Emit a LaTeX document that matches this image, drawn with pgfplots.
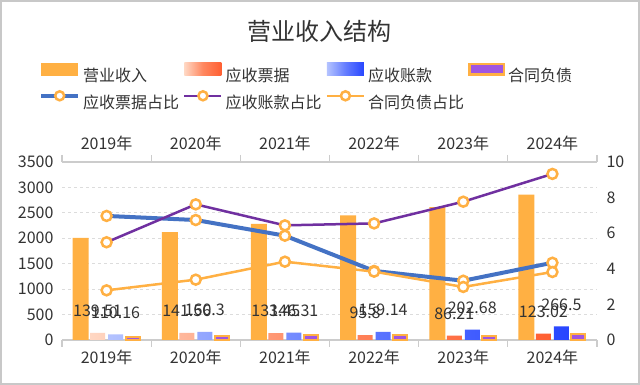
\documentclass[border=0pt]{standalone}
\usepackage{pgfplots}
\pgfplotsset{compat=1.18}
\usepackage{fontspec}
\setmainfont{Noto Sans CJK SC}
\definecolor{orangeC}{RGB}{255,176,67}
\definecolor{redL}{RGB}{255,215,195}
\definecolor{redM}{RGB}{255,135,95}
\definecolor{redR}{RGB}{255,95,50}
\definecolor{blueLt}{RGB}{180,195,255}
\definecolor{blueM}{RGB}{100,125,255}
\definecolor{blueR}{RGB}{40,70,255}
\definecolor{purpleBar}{RGB}{160,85,225}
\definecolor{blueLine}{RGB}{68,114,196}
\definecolor{purpleLine}{RGB}{112,48,160}
\definecolor{textC}{RGB}{51,51,51}
\definecolor{axisgray}{RGB}{204,204,204}
\definecolor{gridgray}{RGB}{220,220,220}
\definecolor{bordergray}{RGB}{200,200,200}
\begin{document}
\begin{tikzpicture}[x=1pt,y=1pt]
\useasboundingbox (0,0) rectangle (640,385);
\fill[white] (0,0) rectangle (640,385);
\draw[bordergray, line width=2pt] (1,1) rectangle (639,384);

\begin{axis}[
  at={(62pt,45pt)}, anchor=south west, scale only axis,
  width=535pt, height=178pt,
  xmin=-0.5, xmax=5.5, ymin=0, ymax=3500,
  ytick={0,500,...,3500},
  xtick={0,...,5},
  xticklabels={2019年,2020年,2021年,2022年,2023年,2024年},
  xticklabel pos=lower,
  minor xtick={-0.5,0.5,...,5.5},
  xtick align=outside, minor tick length=7pt, major tick length=0pt,
  separate axis lines,
  x axis line style={draw=axisgray, line width=1.2pt},
  y axis line style={draw=none},
  minor x tick style={draw=axisgray, line width=1.2pt},
  major tick style={draw=none},
  ymajorgrids, grid style={dashed, draw=gridgray, line width=1pt},
  tick label style={font=\fontsize{16}{19}\selectfont, text=textC},
  xticklabel style={yshift=-6pt},
  yticklabel style={xshift=-5pt},
  /pgf/number format/assume math mode=true,
  /pgf/number format/1000 sep={},
  clip=false,
]
\addplot[ybar, bar width=16pt, bar shift=-26pt, fill=orangeC, draw=none]
  coordinates {(0,2010) (1,2120) (2,2285) (3,2450) (4,2615) (5,2860)};
\addplot[ybar, bar width=15pt, bar shift=-9pt, left color=redL, right color=redR, middle color=redM, draw=none]
  coordinates {(0,139.51) (1,141.56) (2,133.45) (3,95.8) (4,86.21) (5,123.02)};
\addplot[ybar, bar width=15pt, bar shift=9pt, left color=blueLt, right color=blueR, middle color=blueM, draw=none]
  coordinates {(0,110.16) (1,160.3) (2,146.31) (3,159.14) (4,202.68) (5,266.5)};
\addplot[ybar, bar width=14pt, bar shift=26pt, fill=purpleBar, draw=orangeC, line width=2pt]
  coordinates {(0,56) (1,72) (2,100) (3,94) (4,78) (5,109)};
% data labels of 应收票据 and 应收账款 (placed 22px above each bar top)
\addplot[only marks, mark=none, point meta=explicit symbolic,
  nodes near coords={\pgfplotspointmeta},
  every node near coord/.style={anchor=center, text=textC, font=\fontsize{16}{19}\selectfont}]
  coordinates {(-0.101,572)[139.51] (0.899,574)[141.56] (1.899,566)[133.45] (2.899,528)[95.8] (3.899,519)[86.21] (4.899,555)[123.02]};
\addplot[only marks, mark=none, point meta=explicit symbolic,
  nodes near coords={\pgfplotspointmeta},
  every node near coord/.style={anchor=center, text=textC, font=\fontsize{16}{19}\selectfont}]
  coordinates {(0.101,543)[110.16] (1.101,593)[160.3] (2.101,579)[146.31] (3.101,592)[159.14] (4.101,635)[202.68] (5.101,699)[266.5]};
\end{axis}

\begin{axis}[
  at={(62pt,45pt)}, anchor=south west, scale only axis,
  width=535pt, height=178pt,
  xmin=-0.5, xmax=5.5, ymin=0, ymax=10,
  ytick={0,2,...,10},
  yticklabel pos=right,
  xtick={0,...,5},
  xticklabels={2019年,2020年,2021年,2022年,2023年,2024年},
  xticklabel pos=upper,
  separate axis lines,
  x axis line style={draw=none},
  y axis line style={draw=none},
  major tick style={draw=none},
  major tick length=0pt,
  tick label style={font=\fontsize{16}{19}\selectfont, text=textC},
  xticklabel style={yshift=8pt},
  yticklabel style={xshift=6pt},
  /pgf/number format/assume math mode=true,
  clip=false,
  title={营业收入结构},
  title style={at={(0.482,1.70)}, anchor=center, font=\fontsize{24}{28}\selectfont, text=textC},
  legend columns=4,
  legend cell align=left,
  legend style={at={(-0.043,1.560)}, anchor=north west, draw=none, fill=none,
    inner sep=0pt, font=\fontsize{16}{19}\selectfont, text=textC,
    row sep=7pt,
    /tikz/every odd column/.append style={column sep=3pt},
    /tikz/every even column/.append style={column sep=4pt},
    nodes={inner sep=0pt}},
]
\addlegendimage{legend image code/.code={\path[fill=orangeC, draw=none] (0pt,0pt) rectangle (37pt,13pt);}}
\addlegendimage{legend image code/.code={\path[draw=none, left color=redL, right color=redR, middle color=redM] (0pt,0pt) rectangle (37pt,13pt);}}
\addlegendimage{legend image code/.code={\path[draw=none, left color=blueLt, right color=blueR, middle color=blueM] (0pt,0pt) rectangle (37pt,13pt);}}
\addlegendimage{legend image code/.code={\path[fill=purpleBar, draw=orangeC, line width=2.5pt] (1.25pt,1.25pt) rectangle (35.75pt,11.75pt);}}
\addplot[draw=blueLine, line width=4pt, mark=*, mark size=5pt,
  mark options={fill=white, draw=orangeC, line width=2.5pt},
  legend image code/.code={\draw[blueLine, line width=4pt] (0pt,6.5pt)--(37pt,6.5pt); \draw[orangeC, fill=white, line width=2.5pt] (18.5pt,6.5pt) circle (4.5pt);}]
  coordinates {(0,6.97) (1,6.74) (2,5.86) (3,3.88) (4,3.33) (5,4.34)};
\addplot[draw=purpleLine, line width=2.5pt, mark=*, mark size=5pt,
  mark options={fill=white, draw=orangeC, line width=2.5pt},
  legend image code/.code={\draw[purpleLine, line width=2.5pt] (0pt,6.5pt)--(37pt,6.5pt); \draw[orangeC, fill=white, line width=2.5pt] (18.5pt,6.5pt) circle (4.5pt);}]
  coordinates {(0,5.49) (1,7.62) (2,6.44) (3,6.55) (4,7.77) (5,9.33)};
\addplot[draw=orangeC, line width=2.5pt, mark=*, mark size=5pt,
  mark options={fill=white, draw=orangeC, line width=2.5pt},
  legend image code/.code={\draw[orangeC, line width=2.5pt] (0pt,6.5pt)--(37pt,6.5pt); \draw[orangeC, fill=white, line width=2.5pt] (18.5pt,6.5pt) circle (4.5pt);}]
  coordinates {(0,2.79) (1,3.39) (2,4.40) (3,3.84) (4,2.98) (5,3.82)};
\legend{营业收入,应收票据,应收账款,合同负债,应收票据占比,应收账款占比,合同负债占比}
\end{axis}
\end{tikzpicture}
\end{document}
